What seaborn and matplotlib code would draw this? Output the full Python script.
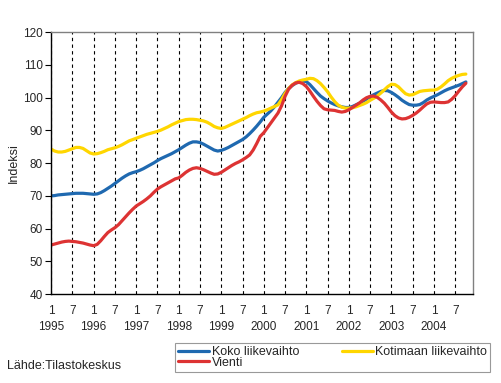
import numpy as np
import pandas as pd
import matplotlib
matplotlib.use("Agg")
import matplotlib.pyplot as plt
import seaborn as sns

# Kuukausittaiset indeksit 1995/1 - 2004/10
koko = [
    70.0, 70.1, 70.3, 70.4, 70.5, 70.6, 70.7, 70.8, 70.8, 70.8, 70.7, 70.6,
    70.5, 70.6, 71.0, 71.6, 72.3, 73.0, 73.8, 74.6, 75.4, 76.1, 76.7, 77.1,
    77.4, 77.8, 78.3, 78.9, 79.5, 80.1, 80.8, 81.4, 81.9, 82.4, 82.9, 83.5,
    84.1, 84.8, 85.5, 86.1, 86.5, 86.5, 86.3, 85.8, 85.2, 84.6, 84.0, 83.7,
    83.9, 84.3, 84.8, 85.4, 86.0, 86.6, 87.2, 88.0, 89.0, 90.1, 91.3, 92.6,
    94.0, 95.0, 96.0, 97.2, 98.6, 100.0, 101.6, 102.8, 103.7, 104.4, 104.9, 105.1,
    104.9, 104.0, 102.8, 101.6, 100.5, 99.7, 99.0, 98.4, 97.9, 97.5, 97.2, 97.0,
    97.0, 97.3, 97.8, 98.3, 98.9, 99.6, 100.3, 100.9, 101.4, 101.9, 102.2, 102.1,
    101.6, 100.9, 100.1, 99.2, 98.5, 97.9, 97.7, 97.7, 97.9, 98.5, 99.3, 99.9,
    100.4, 100.9, 101.5, 102.1, 102.6, 103.0, 103.4, 103.8, 104.3, 104.8,
]
kotimaa = [
    84.3, 83.7, 83.4, 83.4, 83.6, 84.0, 84.4, 84.8, 84.8, 84.5, 83.8, 83.1,
    82.8, 82.9, 83.2, 83.6, 84.1, 84.4, 84.7, 85.1, 85.6, 86.2, 86.8, 87.2,
    87.6, 88.0, 88.4, 88.8, 89.1, 89.4, 89.7, 90.1, 90.6, 91.1, 91.7, 92.2,
    92.7, 93.0, 93.3, 93.4, 93.4, 93.3, 93.1, 92.9, 92.5, 91.9, 91.2, 90.8,
    90.6, 90.9, 91.4, 91.9, 92.4, 92.9, 93.4, 93.9, 94.5, 95.0, 95.4, 95.6,
    95.9, 96.3, 96.8, 97.3, 97.8, 99.4, 101.3, 102.8, 103.9, 104.6, 105.1, 105.4,
    105.6, 105.9, 105.8, 105.2, 104.3, 103.1, 101.8, 100.2, 98.8, 97.7, 97.1, 96.8,
    96.8, 96.9, 97.2, 97.6, 98.0, 98.5, 99.2, 99.8, 100.5, 101.4, 102.4, 103.4,
    104.1, 104.0, 103.3, 102.2, 101.2, 100.8, 100.9, 101.4, 101.9, 102.1, 102.2, 102.3,
    102.3, 102.6, 103.3, 104.2, 105.2, 105.9, 106.4, 106.8, 107.1, 107.2,
]
vienti = [
    55.0, 55.3, 55.6, 55.9, 56.1, 56.2, 56.1, 56.0, 55.8, 55.6, 55.3, 55.0,
    54.8, 55.2, 56.3, 57.6, 58.8, 59.6, 60.3, 61.2, 62.4, 63.6, 64.8, 65.9,
    66.9, 67.6, 68.3, 69.1, 70.0, 71.1, 72.1, 72.8, 73.4, 74.0, 74.6, 75.2,
    75.5, 76.3, 77.2, 77.9, 78.4, 78.6, 78.4, 78.0, 77.5, 77.0, 76.6, 76.7,
    77.2, 77.9, 78.6, 79.3, 79.9, 80.4, 81.0, 81.7, 82.5, 84.0, 86.0, 88.2,
    89.3, 90.8, 92.3, 93.8, 95.3, 97.5, 100.4, 102.6, 103.8, 104.5, 104.7, 104.3,
    103.4, 102.0, 100.4, 98.9, 97.6, 96.6, 96.3, 96.2, 96.1, 95.8, 95.6, 95.8,
    96.3, 97.0, 97.7, 98.4, 99.3, 100.0, 100.4, 100.5, 100.1, 99.3, 98.3, 97.0,
    95.6, 94.5, 93.8, 93.5, 93.6, 94.0, 94.6, 95.3, 96.2, 97.2, 98.1, 98.6,
    98.7, 98.6, 98.5, 98.5, 98.7, 99.5, 100.6, 102.0, 103.3, 104.4,
]
vuodet = list(range(1995, 2005))

kk = np.arange(len(koko))
df = pd.DataFrame({"kk": kk, "Koko liikevaihto": koko,
                   "Kotimaan liikevaihto": kotimaa, "Vienti": vienti})

sns.set_style("white")
plt.rcParams["font.family"] = ["Liberation Sans", "DejaVu Sans"]

fig = plt.figure(figsize=(5.01, 3.83), dpi=100)
ax = fig.add_axes([0.102, 0.232, 0.842, 0.684])

varit = {"Koko liikevaihto": "#1f69b0", "Kotimaan liikevaihto": "#ffd600",
         "Vienti": "#dd3333"}
for nimi in ["Koko liikevaihto", "Kotimaan liikevaihto", "Vienti"]:
    sns.lineplot(data=df, x="kk", y=nimi, ax=ax, color=varit[nimi],
                 linewidth=2.3, label=nimi)

h, l = ax.get_legend_handles_labels()
ax.get_legend().remove()

ax.set_xlim(0, 119)
ax.set_ylim(40, 120)
ax.set_yticks(range(40, 121, 10))
ax.tick_params(axis="y", labelsize=8.5, length=4, width=0.8, color="black",
               direction="out", pad=2, left=True)

xt = np.arange(0, len(koko), 6)
xl = []
for i in xt:
    if i % 12 == 0:
        xl.append("1\n" + str(vuodet[i // 12]))
    else:
        xl.append("7")
ax.set_xticks(xt)
ax.set_xticklabels(xl, fontsize=8.5, linespacing=1.45)
ax.tick_params(axis="x", length=0, pad=8)
ax.xaxis.grid(True, linestyle=(0, (3, 3)), color="black", linewidth=0.8)
ax.yaxis.grid(False)

for s in ["left", "bottom"]:
    ax.spines[s].set_color("black")
    ax.spines[s].set_linewidth(1.0)
for s in ["top", "right"]:
    ax.spines[s].set_color("#808080")
    ax.spines[s].set_linewidth(1.0)

ax.set_xlabel("")
ax.set_ylabel("Indeksi", fontsize=9, labelpad=2)

jarj = [0, 2, 1]
leg = fig.legend([h[i] for i in jarj], [l[i] for i in jarj], ncol=2,
                 loc="upper left", bbox_to_anchor=(0.349, 0.105),
                 frameon=True, fancybox=False, fontsize=9,
                 handlelength=2.5, handletextpad=0.2, columnspacing=3.4,
                 labelspacing=-0.1, borderpad=0.25, borderaxespad=0)
leg.get_frame().set_edgecolor("#808080")
leg.get_frame().set_linewidth(0.8)

fig.text(0.014, 0.045, "Lähde:Tilastokeskus", fontsize=9, va="center")

fig.savefig("out.png", dpi=100)
plt.close(fig)
